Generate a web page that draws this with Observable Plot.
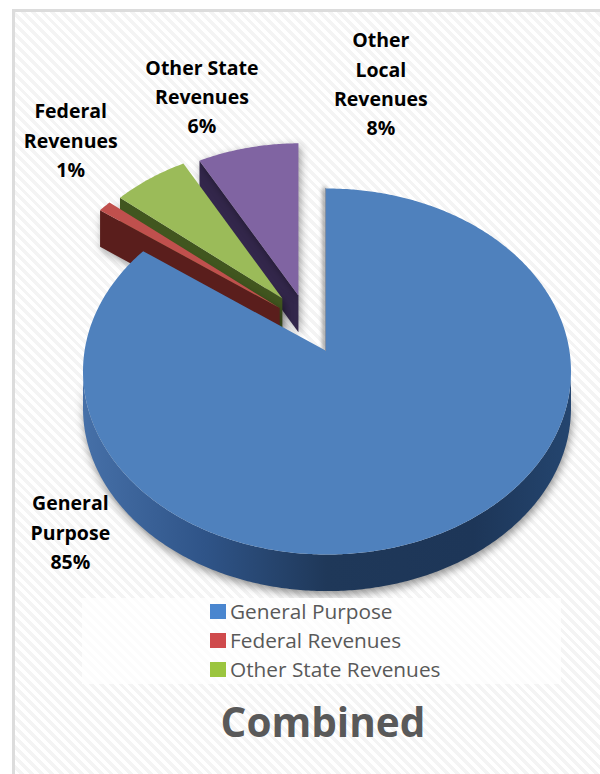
<!DOCTYPE html>
<html>
<head>
<meta charset="utf-8">
<script src="https://cdn.jsdelivr.net/npm/d3@7"></script>
<script src="https://cdn.jsdelivr.net/npm/@observablehq/plot@0.6"></script>
<style>
  html, body { margin: 0; padding: 0; background: #fff; }
  #frame {
    position: absolute; left: 12px; top: 9px; width: 588px; height: 765px;
    border-left: 3px solid #dcdcdc; border-top: 3px solid #dcdcdc; box-sizing: border-box;
    background: repeating-linear-gradient(45deg, #fff 0 3.5px, #f4f4f4 3.5px 7px);
  }
  #chart { position: absolute; left: 0; top: 0; width: 600px; height: 598px; }
  #legend {
    position: absolute; left: 82px; top: 598px; width: 479px; height: 86px;
    background: rgba(255,255,255,.72); box-sizing: border-box; padding: 0 0 0 128px;
    font: 20.8px "Open Sans", sans-serif; color: #595959;
  }
  #legend div { height: 29px; line-height: 27px; display: flex; align-items: center; white-space: nowrap; position: relative; top: -1px; }
  #legend i { display: inline-block; width: 16px; height: 15px; margin-right: 4px; flex: none; }
  #title {
    position: absolute; left: 0; width: 646px; top: 694px; text-align: center;
    font: bold 40.5px "Open Sans", sans-serif; color: #595959;
  }
</style>
</head>
<body>
<div id="frame"></div>
<div id="chart"></div>
<div id="legend"></div>
<div id="title"></div>
<script>
// Revenue shares, in percent
const categories = ["General Purpose", "Federal Revenues", "Other State Revenues", "Other Local Revenues"];
const shares = [85, 1, 6, 8];
const legendEntries = ["General Purpose", "Federal Revenues", "Other State Revenues"];
const chartTitle = "Combined";
const labelLines = ["General\nPurpose", "Federal\nRevenues", "Other State\nRevenues", "Other\nLocal\nRevenues"];

// Slice colours: lit top face, shaded cut face
const topColors = ["#4f81bd", "#c0504d", "#9bbb59", "#8064a2"];
const sideColors = ["#1f3a5c", "#5a1e1c", "#41561f", "#33274b"];
const legendColors = ["#4a86cf", "#cf4a4c", "#9bc53f"];

// Exploded slices: tip position and shrink factor, in disc units (disc radius = 1)
const tipX = [-0.006, -0.194, -0.183, -0.117];
const tipY = [0.086, 0.26, 0.299, 0.311];
const shrink = [1, 0.985, 0.94, 0.94];

// Label nudges from the slice's rim midpoint, in pixels
const labelDx = [-70, -34, 52, 133];
const labelDy = [41, -68, -84, -66];

const squash = 0.75;   // tilt of the disc
const depth = 0.15;    // extrusion of the disc
const R = 244;         // pixels per disc unit

// Angles clockwise from twelve o'clock, walked from the share values
const total = d3.sum(shares);
const ends = d3.cumsum(shares).map(v => (v / total) * 2 * Math.PI);
const starts = ends.map((_, i) => (i ? ends[i - 1] : 0));

// Where a ray from the main tip along angle a leaves the tilted ellipse
function rimDistance(a) {
  const dx = Math.sin(a), dy = squash * Math.cos(a);
  const ax = tipX[0], ay = tipY[0];
  const A = dx * dx + (dy * dy) / (squash * squash);
  const B = 2 * (ax * dx + (ay * dy) / (squash * squash));
  const C = ax * ax + (ay * ay) / (squash * squash) - 1;
  return (-B + Math.sqrt(B * B - 4 * A * C)) / (2 * A);
}
function rimPoint(i, a) {
  const t = rimDistance(a) * shrink[i];
  return {x: tipX[i] + t * Math.sin(a), y: tipY[i] + t * squash * Math.cos(a)};
}
function rimArc(i) {
  const n = Math.max(4, Math.ceil((ends[i] - starts[i]) / 0.01));
  return d3.range(n + 1).map(k => rimPoint(i, starts[i] + ((ends[i] - starts[i]) * k) / n));
}
const lower = p => ({x: p.x, y: p.y - depth});

const topFace = i => [{x: tipX[i], y: tipY[i]}, ...rimArc(i)];
// The cut face that looks toward the viewer on the exploded slices
function cutFace(i) {
  const tip = {x: tipX[i], y: tipY[i]};
  const edge = rimPoint(i, starts[i]);
  return [tip, edge, lower(edge), lower(tip)];
}
// The outer wall of the large slice, where the rim faces forward
function wall(i) {
  const near = rimArc(i).filter(p => p.y <= 0.0);
  return [...near, ...near.slice().reverse().map(lower)];
}

const defs = () => {
  const d = d3.create("svg:defs");
  const g = d.append("linearGradient").attr("id", "wallShade")
    .attr("x1", 0).attr("x2", 1).attr("y1", 0).attr("y2", 0);
  [[0, "#4670a8"], [0.25, "#2f5488"], [0.5, "#1f3859"], [0.8, "#1d3658"], [1, "#24456f"]]
    .forEach(([o, c]) => g.append("stop").attr("offset", o).attr("stop-color", c));
  return d.node();
};

const face = (pts, fill, extra = {}) => Plot.line(pts, {x: "x", y: "y", fill, stroke: "none", ...extra});
const softShadow = "drop-shadow(2px 3px 4px rgba(0,0,0,.38))";

// Back-to-front: exploded slices first, the large slice over them
const sliceMarks = [3, 2, 1].flatMap(i => [
  face(cutFace(i), sideColors[i], {imageFilter: softShadow}),
  face(topFace(i), topColors[i], i === 3 ? {imageFilter: softShadow} : {})
]);

// One text mark per label, since each has its own nudge
const labelMarks = categories.map((c, i) => {
  const mid = rimPoint(i, i === 0 ? (5 * Math.PI) / 4 : (starts[i] + ends[i]) / 2);
  return Plot.text([{...mid, text: `${labelLines[i]}\n${shares[i]}%`}], {
    x: "x", y: "y", text: "text", dx: labelDx[i], dy: labelDy[i],
    lineHeight: 1.51, fontSize: 19.5, fontWeight: 700, fontFamily: "Open Sans", fill: "black"
  });
});

// The soft shade that falls left of the large slice's vertical cut
const cutEdge = [{x: tipX[0], y: tipY[0]}, rimPoint(0, 0.0001)];

const height = 598;
const plot = Plot.plot({
  width: 600, height,
  margin: 0,
  axis: null,
  style: {background: "transparent"},
  x: {domain: [-326.5 / R, (600 - 326.5) / R], range: [0, 600]},
  y: {domain: [(371 - height) / R, 371 / R], range: [height, 0]},
  marks: [
    defs,
    ...sliceMarks,
    Plot.line(cutEdge, {x: "x", y: "y", stroke: "#777", strokeWidth: 3, dx: -1, imageFilter: "blur(2px)"}),
    face(wall(0), "url(#wallShade)", {imageFilter: "drop-shadow(1px 4px 4px rgba(0,0,0,.42))"}),
    face(topFace(0), topColors[0]),
    Plot.line(cutEdge, {x: "x", y: "y", stroke: "#7f8ea3", strokeWidth: 1}),
    ...labelMarks
  ]
});
document.getElementById("chart").append(plot);

const legend = d3.select("#legend");
legendEntries.forEach((name, i) => {
  const row = legend.append("div");
  row.append("i").style("background", legendColors[i]);
  row.append("span").text(name);
});
document.getElementById("title").textContent = chartTitle;
</script>
</body>
</html>
